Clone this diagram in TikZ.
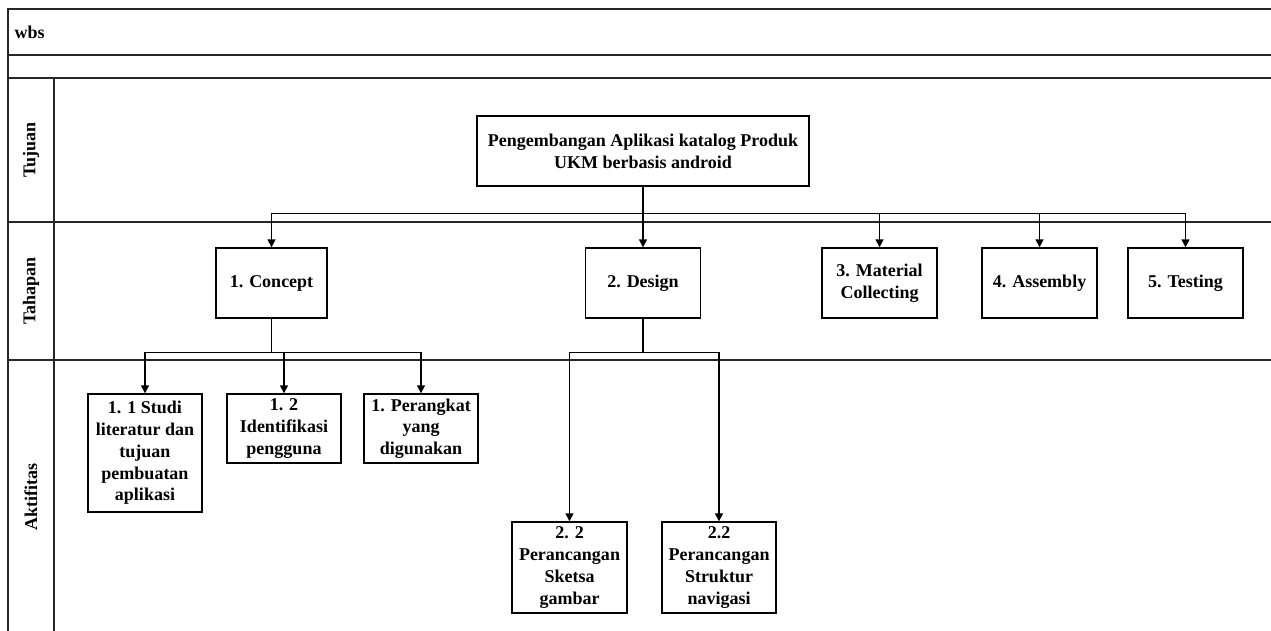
\documentclass[tikz,border=0pt]{standalone}
\usepackage{fontspec}
\setmainfont{Liberation Serif}
\usetikzlibrary{arrows.meta}
\begin{document}
\begin{tikzpicture}[x=1pt,y=-1pt,
  frame/.style={line width=1.4pt, draw=black!85},
  box/.style={draw, line width=1.4pt, rectangle, align=center, inner sep=2pt,
    font=\fontsize{18}{21.7}\selectfont\bfseries},
  arr/.style={line width=1.4pt, -{Triangle[width=8pt,length=8pt]}},
  lane/.style={rotate=90, font=\fontsize{18}{21.7}\selectfont\bfseries}]
\useasboundingbox (0,0) rectangle (1271,631);
% frame
\draw[frame] (1271,9) -- (8,9) -- (8,631);
\draw[frame] (8,55) -- (1271,55);
\draw[frame] (8,78) -- (1271,78);
\draw[frame] (8,222) -- (1271,222);
\draw[frame] (8,360) -- (1271,360);
\draw[frame] (54,78) -- (54,631);
\node[anchor=west, font=\fontsize{18}{21.7}\selectfont\bfseries] (wbs) at (11,32) {wbs};
\node[lane] (tujuan) at (31,150) {Tujuan};
\node[lane] (tahapan) at (31,291) {Tahapan};
\node[lane] (aktifitas) at (31,497) {Aktifitas};
% nodes
\node[box, minimum width=332pt, minimum height=70pt] (root) at (643,151) {Pengembangan Aplikasi katalog Produk\\UKM berbasis android};
\node[box, minimum width=111pt, minimum height=70pt] (concept) at (271.5,283) {1. Concept};
\node[box, minimum width=115pt, minimum height=70pt] (design) at (643,283) {2. Design};
\node[box, minimum width=115pt, minimum height=70pt] (material) at (879.5,283) {3. Material\\Collecting};
\node[box, minimum width=115pt, minimum height=70pt] (assembly) at (1039.5,283) {4. Assembly};
\node[box, minimum width=115pt, minimum height=70pt] (testing) at (1185.5,283) {5. Testing};
\node[box, minimum width=114pt, minimum height=118pt] (a11) at (145,453) {1. 1 Studi\\literatur dan\\tujuan\\pembuatan\\aplikasi};
\node[box, minimum width=114pt, minimum height=69pt] (a12) at (284,428.5) {1. 2\\Identifikasi\\pengguna};
\node[box, minimum width=114pt, minimum height=69pt] (a13) at (421,428.5) {1. Perangkat\\yang\\digunakan};
\node[box, minimum width=115pt, minimum height=91pt] (a21) at (569.5,567.5) {2. 2\\Perancangan\\Sketsa\\gambar};
\node[box, minimum width=114pt, minimum height=91pt] (a22) at (719,567.5) {2.2\\Perancangan\\Struktur\\navigasi};
% connectors
\path (root.south) ++(0,27) coordinate (busT);
\path (concept.south) ++(0,34) coordinate (busC);
\path (design.south) ++(0,34) coordinate (busD);
\draw[arr] (root.south) -- (design.north);
\draw[arr] (busT) -| (concept.north);
\draw[arr] (busT) -| (material.north);
\draw[arr] (busT) -| (assembly.north);
\draw[arr] (busT) -| (testing.north);
\draw[line width=1.4pt] (concept.south) -- (busC);
\draw[arr] (busC) -| (a11.north);
\draw[arr] (busC) -| (a12.north);
\draw[arr] (busC) -| (a13.north);
\draw[line width=1.4pt] (design.south) -- (busD);
\draw[arr] (busD) -| (a21.north);
\draw[arr] (busD) -| (a22.north);
\end{tikzpicture}
\end{document}
